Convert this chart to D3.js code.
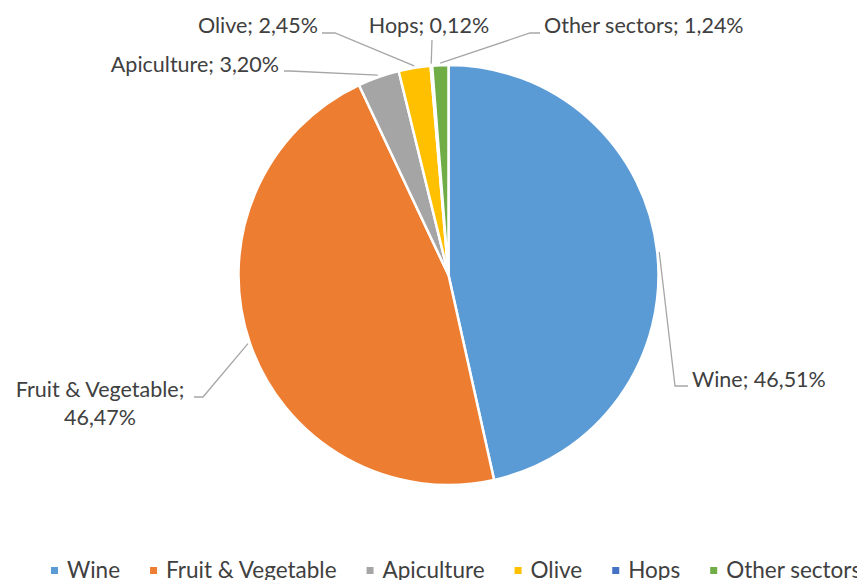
<!DOCTYPE html>
<meta charset="utf-8">
<style>
  body { margin: 0; background: #fff; }
  svg text { font-family: Lato, "Open Sans", sans-serif; fill: #404040; }
</style>
<svg width="857" height="580"></svg>
<script src="https://d3js.org/d3.v7.min.js"></script>
<script>
  // data (shares in %)
  var sectors = ["Wine", "Fruit & Vegetable", "Apiculture", "Olive", "Hops", "Other sectors"];
  var shares = [46.51, 46.47, 3.20, 2.45, 0.12, 1.24];
  var colors = ["#5b9bd5", "#ed7d31", "#a5a5a5", "#ffc000", "#4472c4", "#70ad47"];

  var svg = d3.select("svg"),
    cx = 448.5, cy = 275, r = 210;

  var fmt = function(v) { return d3.format(".2f")(v).replace(".", ",") + "%"; };

  var rows = sectors.map(function(s, i) { return {name: s, value: shares[i], color: colors[i]}; });

  var pie = d3.pie().sort(null).value(function(d) { return d.value; });
  var arc = d3.arc().innerRadius(0).outerRadius(r);
  var arcs = pie(rows);

  var g = svg.append("g").attr("transform", "translate(" + cx + "," + cy + ")");

  g.selectAll("path")
    .data(arcs)
    .enter().append("path")
    .attr("d", arc)
    .attr("fill", function(d) { return d.data.color; })
    .attr("stroke", "#fff")
    .attr("stroke-width", 2.5)
    .attr("stroke-linejoin", "round");

  // label placement (Excel "best fit" style), page coordinates
  var labelLayout = [
    {elbow: [675, 386], end: [688, 386], x: 692, y: 387, anchor: "start"},
    {elbow: [203, 397], end: [194, 397], x: 100, y: 397, anchor: "middle", split: true},
    {elbow: [290, 71], end: [284, 71], x: 279, y: 72, anchor: "end"},
    {elbow: [335, 33], end: [322, 33], x: 318, y: 33, anchor: "end"},
    {elbow: [432, 40], end: [432, 40], x: 429, y: 33, anchor: "middle"},
    {elbow: [530, 33], end: [540, 33], x: 544, y: 33, anchor: "start"}
  ];

  var labels = svg.append("g");

  arcs.forEach(function(d, i) {
    var L = labelLayout[i];
    var p = d3.arc().innerRadius(r + 2).outerRadius(r + 2).centroid(d);
    var start = [cx + p[0], cy + p[1]];
    labels.append("polyline")
      .attr("points", [start, L.elbow, L.end].map(function(q) { return q.join(","); }).join(" "))
      .attr("fill", "none")
      .attr("stroke", "#a6a6a6")
      .attr("stroke-width", 1.3);
    var t = labels.append("text")
      .attr("x", L.x)
      .attr("y", L.y)
      .attr("text-anchor", L.anchor)
      .attr("font-size", 21.5);
    if (L.split) {
      t.append("tspan").attr("x", L.x).text(d.data.name + ";");
      t.append("tspan").attr("x", L.x).attr("dy", 28).text(fmt(d.data.value));
    } else {
      t.text(d.data.name + "; " + fmt(d.data.value));
    }
  });

  // legend (bottom row is clipped by the frame, as in the original)
  var legend = svg.append("g");
  var lx = 51;
  rows.forEach(function(d) {
    legend.append("rect")
      .attr("x", lx).attr("y", 567)
      .attr("width", 7).attr("height", 7)
      .attr("fill", d.color);
    var t = legend.append("text")
      .attr("x", lx + 16).attr("y", 578)
      .attr("font-size", 22.5)
      .text(d.name);
    lx += 16 + t.node().getComputedTextLength() + 30;
  });
</script>
